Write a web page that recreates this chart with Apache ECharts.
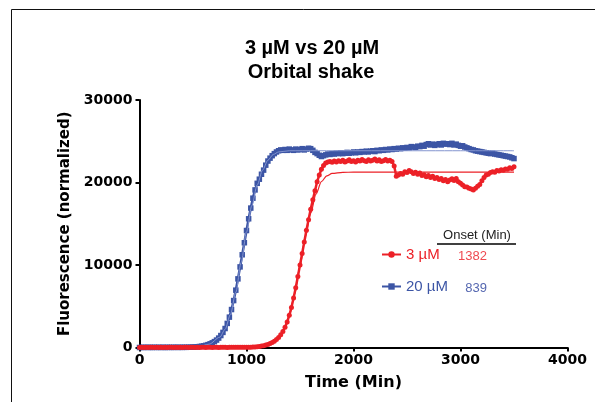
<!DOCTYPE html>
<html>
<head>
<meta charset="utf-8">
<script src="https://cdn.jsdelivr.net/npm/echarts@6/dist/echarts.min.js"></script>
<style>
  html, body { margin: 0; padding: 0; background: #fff; }
  #chart { width: 595px; height: 402px; }
</style>
</head>
<body>
<div id="chart"></div>
<script>
// ---- Data ----
const titleLines = ['3 µM vs 20 µM', 'Orbital shake'];
const seriesNames = ['3 µM', '20 µM'];
const onsetMinutes = [1382, 839];
const xTicks = [0, 1000, 2000, 3000, 4000];
const yTicks = [0, 10000, 20000, 30000];

// sample times (min)
const sampleTimes = [
  0,20,40,60,80,100,120,140,160,180,
  200,220,240,260,280,300,320,340,360,380,
  400,420,440,460,480,500,520,540,560,580,
  600,620,640,660,680,700,720,740,760,780,
  800,820,840,860,880,900,920,940,960,980,
  1000,1020,1040,1060,1080,1100,1120,1140,1160,1180,
  1200,1220,1240,1260,1280,1300,1320,1340,1360,1380,
  1400,1420,1440,1460,1480,1500,1520,1540,1560,1580,
  1600,1620,1640,1660,1680,1700,1720,1740,1760,1780,
  1800,1820,1840,1860,1880,1900,1920,1940,1960,1980,
  2000,2020,2040,2060,2080,2100,2120,2140,2160,2180,
  2200,2220,2240,2260,2280,2300,2320,2340,2360,2380,
  2400,2420,2440,2460,2480,2500,2520,2540,2560,2580,
  2600,2620,2640,2660,2680,2700,2720,2740,2760,2780,
  2800,2820,2840,2860,2880,2900,2920,2940,2960,2980,
  3000,3020,3040,3060,3080,3100,3120,3140,3160,3180,
  3200,3220,3240,3260,3280,3300,3320,3340,3360,3380,
  3400,3420,3440,3460,3480,3500
];

// 3 µM fluorescence (normalized)
const red3uM = [
  0,20,10,25,15,30,20,10,25,15,
  20,10,30,15,25,20,10,25,15,20,
  10,25,20,15,30,20,10,25,15,20,
  25,15,20,30,10,25,20,15,30,20,
  25,15,30,20,25,30,20,35,25,30,
  30,35,40,55,75,100,130,170,220,290,
  375,475,600,760,960,1220,1540,1950,2450,3100,
  3900,4850,6000,7250,8600,10000,11400,12800,14200,15500,
  16750,17900,19000,20100,20900,21600,22050,22350,22500,22550,
  22450,22600,22500,22650,22550,22700,22500,22600,22750,22550,
  22650,22500,22700,22600,22800,22650,22550,22750,22600,22700,
  22850,22600,22750,22550,22650,22800,22600,22700,22550,22000,
  20750,20900,21100,21000,21300,21200,21450,21300,21100,21250,
  21000,21150,20850,20950,20700,20850,20600,20750,20500,20600,
  20350,20500,20200,20350,20100,20300,20450,20250,20500,20100,
  19900,19700,19500,19450,19300,19200,19100,19300,19550,19750,
  20200,20600,20900,21000,21200,21300,21250,21450,21400,21550,
  21500,21650,21600,21800,21700,21900
];

// 20 µM fluorescence (normalized)
const blue20uM = [
  0,15,5,20,10,15,5,20,10,15,
  10,20,5,15,20,10,15,25,10,20,
  15,25,20,30,35,50,68,92,120,158,
  205,268,347,446,567,714,900,1140,1450,1830,
  2300,2920,3680,4600,5690,6950,8320,9770,11240,12700,
  14180,15600,16900,18100,19100,19900,20400,21000,21500,22100,
  22600,22950,23250,23500,23700,23850,23950,23900,24000,23900,
  24050,23950,23900,24050,23950,24000,24100,23950,24050,24150,
  24100,23900,23650,23500,23300,23150,23250,23350,23450,23400,
  23500,23450,23550,23500,23600,23500,23550,23650,23550,23600,
  23700,23600,23700,23650,23750,23700,23800,23700,23800,23850,
  23750,23900,23850,23950,23900,24000,23950,24050,24000,24100,
  24050,24150,24100,24200,24150,24250,24200,24350,24300,24250,
  24400,24350,24500,24400,24600,24700,24550,24650,24500,24600,
  24700,24550,24750,24650,24700,24600,24750,24550,24650,24500,
  24400,24450,24300,24200,24100,24000,23950,23850,23800,23750,
  23700,23650,23600,23550,23500,23550,23450,23400,23350,23300,
  23250,23200,23150,23100,23000,22900
];

// sigmoid fit curves
const redFitTimes  = [0, 1100, 1200, 1300, 1350, 1400, 1450, 1500, 1550, 1600, 1650, 1700, 1750, 1800, 1900, 2000, 3500];
const redFitValues = [0, 100, 380, 1200, 2100, 3850, 6500, 9900, 13400, 16300, 18600, 20100, 20800, 21100, 21230, 21250, 21250];
const blueFitTimes  = [0, 550, 650, 750, 800, 850, 900, 950, 1000, 1050, 1100, 1150, 1200, 1250, 1300, 1400, 3500];
const blueFitValues = [0, 100, 400, 1250, 2200, 4000, 6700, 10300, 14000, 17200, 19700, 21500, 22700, 23400, 23700, 23850, 23850];

// ---- Styling ----
const RED = '#ec2027';
const BLUE = '#3c55a5';
const zip = (xs, ys) => xs.map((x, i) => [x, ys[i]]);

const gridLeft = 139.5, gridTop = 100, gridW = 428, gridH = 247.5;

const chart = echarts.init(document.getElementById('chart'), null, { renderer: 'canvas' });

const axisText = { fontFamily: 'DejaVu Sans', fontWeight: 'bold', color: '#000' };
const plain = v => String(v);

chart.setOption({
  animation: false,
  backgroundColor: '#fff',
  grid: { left: gridLeft, top: gridTop, width: gridW, height: gridH, containLabel: false },
  xAxis: {
    type: 'value', min: xTicks[0], max: xTicks[xTicks.length - 1], interval: 1000,
    name: 'Time (Min)', nameLocation: 'middle', nameGap: 27,
    nameTextStyle: Object.assign({ fontSize: 16 }, axisText),
    axisLine: { show: true, lineStyle: { color: '#000', width: 2 } },
    axisTick: { show: true, length: 4, lineStyle: { color: '#000', width: 2 } },
    axisLabel: Object.assign({ fontSize: 14, margin: 6, formatter: plain }, axisText),
    splitLine: { show: false }
  },
  yAxis: {
    type: 'value', min: yTicks[0], max: yTicks[yTicks.length - 1], interval: 10000,
    name: 'Fluorescence (normalized)', nameLocation: 'middle', nameGap: 64,
    nameTextStyle: Object.assign({ fontSize: 15 }, axisText),
    axisLine: { show: true, lineStyle: { color: '#000', width: 2 } },
    axisTick: { show: true, length: 4, lineStyle: { color: '#000', width: 2 } },
    axisLabel: Object.assign({ fontSize: 14, margin: 7, formatter: plain }, axisText),
    splitLine: { show: false }
  },
  legend: {
    data: [
      { name: seriesNames[0], textStyle: { color: RED } },
      { name: seriesNames[1], textStyle: { color: BLUE } }
    ],
    orient: 'vertical', left: 381, top: 247, padding: 0,
    itemWidth: 19, itemHeight: 8, itemGap: 17,
    textStyle: { fontFamily: 'Liberation Sans', fontSize: 15, padding: [0, 0, 0, 0] }
  },
  graphic: [
    { type: 'line', shape: { x1: 11.5, y1: 9.5, x2: 595, y2: 9.5 }, style: { stroke: '#111', lineWidth: 1 } },
    { type: 'line', shape: { x1: 11.5, y1: 9.5, x2: 11.5, y2: 402 }, style: { stroke: '#111', lineWidth: 1 } },
    { type: 'text', x: 312, y: 48, style: { text: titleLines[0], align: 'center', verticalAlign: 'middle', font: 'bold 20px "Liberation Sans", Arial', fill: '#000' } },
    { type: 'text', x: 311, y: 72, style: { text: titleLines[1], align: 'center', verticalAlign: 'middle', font: 'bold 20px "Liberation Sans", Arial', fill: '#000' } },
    { type: 'text', x: 477, y: 235, style: { text: 'Onset (Min)', align: 'center', verticalAlign: 'middle', font: '13px "Liberation Sans", Arial', fill: '#222' } },
    { type: 'line', shape: { x1: 437, y1: 244, x2: 516, y2: 244 }, style: { stroke: '#000', lineWidth: 1.5 } },
    { type: 'text', x: 487, y: 256, style: { text: String(onsetMinutes[0]), align: 'right', verticalAlign: 'middle', font: '13px "Liberation Sans", Arial', fill: '#ef4a51' } },
    { type: 'text', x: 487, y: 288, style: { text: String(onsetMinutes[1]), align: 'right', verticalAlign: 'middle', font: '13px "Liberation Sans", Arial', fill: '#5567b0' } }
  ],
  series: [
    {
      name: seriesNames[1], type: 'line', data: zip(sampleTimes, blue20uM),
      symbol: 'rect', symbolSize: 5.5, showAllSymbol: true,
      itemStyle: { color: BLUE }, lineStyle: { color: BLUE, width: 2.5 }, z: 2
    },
    {
      name: 'fit20', type: 'line', data: zip(blueFitTimes, blueFitValues),
      smooth: 0.3, smoothMonotone: 'x', symbol: 'none',
      lineStyle: { color: '#8495cf', width: 1 }, z: 3
    },
    {
      name: seriesNames[0], type: 'line', data: zip(sampleTimes, red3uM),
      symbol: 'circle', symbolSize: 5, showAllSymbol: true,
      itemStyle: { color: RED }, lineStyle: { color: RED, width: 2.5 }, z: 4
    },
    {
      name: 'fit3', type: 'line', data: zip(redFitTimes, redFitValues),
      smooth: 0.3, smoothMonotone: 'x', symbol: 'none',
      lineStyle: { color: RED, width: 1.2 }, z: 5
    }
  ]
});
</script>
</body>
</html>
